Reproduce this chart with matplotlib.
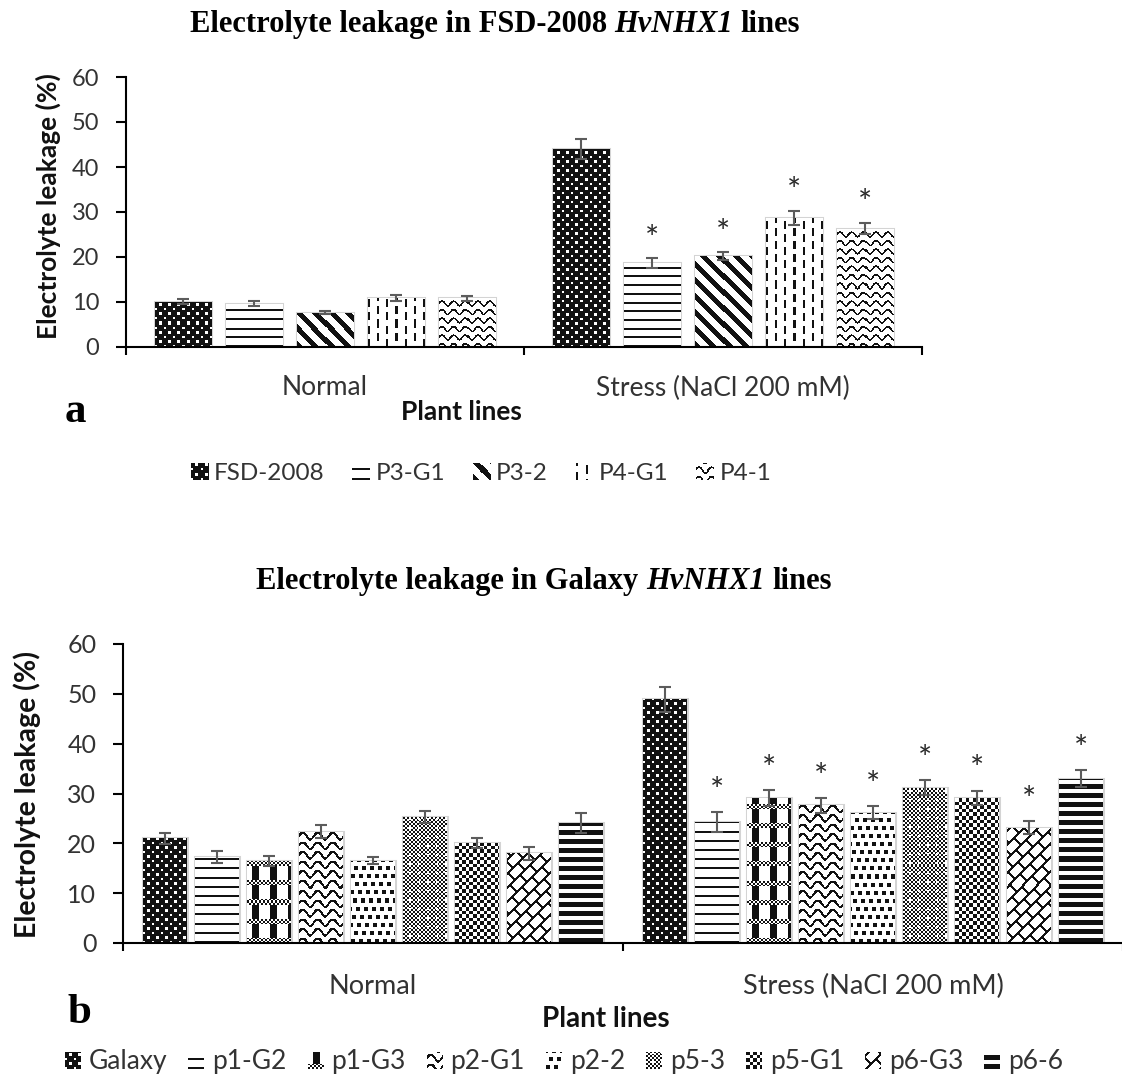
import numpy as np
import matplotlib
matplotlib.use("Agg")
import matplotlib.pyplot as plt
from matplotlib.legend_handler import HandlerBase
from matplotlib.image import BboxImage
from matplotlib.transforms import Bbox, TransformedBbox
from matplotlib.colors import Normalize
from matplotlib.patches import Patch

plt.rcParams['font.family'] = ['Lato', 'DejaVu Sans']

# ---------------- data ----------------
conditions = ["Normal", "Stress (NaCl 200 mM)"]
yticks = [0, 10, 20, 30, 40, 50, 60]

a_title = ["Electrolyte leakage in FSD-2008", "HvNHX1", "lines"]
a_series = ["FSD-2008", "P3-G1", "P3-2", "P4-G1", "P4-1"]
a_normal = [10.1, 9.6, 7.6, 10.9, 10.8]
a_normal_err = [0.5, 0.6, 0.3, 0.6, 0.6]
a_stress = [44.0, 18.6, 20.2, 28.7, 26.3]
a_stress_err = [2.3, 1.1, 0.8, 1.5, 1.3]
a_sig = [False, True, True, True, True]

b_title = ["Electrolyte leakage in Galaxy", "HvNHX1", "lines"]
b_series = ["Galaxy", "p1-G2", "p1-G3", "p2-G1", "p2-2", "p5-3", "p5-G1", "p6-G3", "p6-6"]
b_normal = [21.0, 17.2, 16.5, 22.3, 16.5, 25.2, 20.0, 18.0, 24.0]
b_normal_err = [1.1, 1.2, 1.0, 1.3, 0.7, 1.2, 1.0, 1.3, 2.0]
b_stress = [48.9, 24.2, 29.1, 27.6, 26.1, 31.2, 29.1, 23.1, 33.0]
b_stress_err = [2.5, 2.0, 1.6, 1.5, 1.3, 1.5, 1.5, 1.3, 1.7]
b_sig = [False, True, True, True, True, True, True, True, True]

a_kinds = ["dots", "hl1", "diag", "vdash", "wave1"]
b_kinds = ["dots", "hl2", "blocks", "wave2", "squares", "fine", "checker", "brick", "hl3"]

# ---------------- textures ----------------
BLACK = 0.07


def texture(kind, W, H):
    X = np.broadcast_to(np.arange(W)[None, :] + 0.5, (H, W))
    Y = np.broadcast_to(np.arange(H)[:, None] + 0.5, (H, W))
    if kind == "dots":
        w = (((X % 9) < 2.2) & ((Y % 9) < 2.2)) | ((((X + 4.5) % 9) < 2.2) & (((Y + 4.5) % 9) < 2.2))
        blk = ~w
    elif kind in ("hl1", "hl2", "hl3"):
        p, t = {"hl1": (8.7, 2.0), "hl2": (9.2, 2.0), "hl3": (9.0, 4.6)}[kind]
        blk = (Y % p) < t
    elif kind == "diag":
        blk = ((X + Y) % 16) < 6.5
    elif kind == "vdash":
        col = np.floor(X / 9)
        off = 6.5 * (col % 2)
        blk = ((X % 9) < 2.3) & (((Y + off) % 13) < 8)
    elif kind in ("wave1", "wave2"):
        p, lam, A, t = {"wave1": (8.5, 11.7, 2.3, 1.7), "wave2": (9.5, 15.0, 3.2, 2.2)}[kind]
        slope = A * 2 * np.pi / lam * np.cos(2 * np.pi * X / lam)
        tl = t * np.sqrt(1 + slope ** 2)
        d = (Y - A * np.sin(2 * np.pi * X / lam)) % p
        blk = d < tl
    elif kind == "blocks":
        cx = X % 18
        cy = Y % 19
        band = cy < 5
        chk = ((np.floor(X / 2) + np.floor(Y / 2)) % 2) == 0
        blk = np.where(band, chk, (cx >= 5) & (cx < 12))
    elif kind == "squares":
        seq = np.array([0, 5, 2, 7, 3, 6, 1, 4])
        row = (np.floor(Y / 8).astype(int)) % 8
        off = seq[row]
        blk = (((X + off) % 8) < 4) & ((Y % 8) < 4)
    elif kind == "fine":
        chk = ((np.floor(X / 2) + np.floor(Y / 2)) % 2) == 0
        hl = (((X + 3) % 9) < 2) & (((Y + 3) % 9) < 2)
        blk = chk & ~hl
    elif kind == "checker":
        blk = ((np.floor(X / 3.6) + np.floor(Y / 3.6)) % 2) == 0
    elif kind == "brick":
        u = X - Y
        v = X + Y
        line = (u % 14) < 2.6
        k = np.floor(u / 14)
        conn = ((v + 10 * (k % 2)) % 20) < 2.6
        blk = line | conn
    else:
        blk = np.zeros((H, W), bool)
    return np.where(blk, BLACK, 1.0)


class TexHandler(HandlerBase):
    def __init__(self, kind):
        super().__init__()
        self.kind = kind

    def create_artists(self, legend, orig_handle, xdescent, ydescent, width, height, fontsize, trans):
        bb = Bbox.from_bounds(-xdescent, -ydescent, width, height)
        img = BboxImage(TransformedBbox(bb, trans), cmap="gray", norm=Normalize(0, 1),
                        interpolation="nearest", origin="lower")
        npx = max(4, int(round(width * 100 / 72)))
        npy = max(4, int(round(height * 100 / 72)))
        img.set_data(texture(self.kind, npx, npy))
        return [img]


# ---------------- figure ----------------
W_PX, H_PX = 1122, 1081
fig = plt.figure(figsize=(W_PX / 100, H_PX / 100), dpi=100)
renderer = fig.canvas.get_renderer()


def fx(px):
    return px / W_PX


def fy(py):
    return 1 - py / H_PX


def mixed_title(parts, cx, base_y, fs):
    styles = ["normal", "italic", "normal"]
    kw = dict(fontsize=fs, family="Liberation Serif", fontweight="bold", va="baseline", ha="left")
    probe1 = fig.text(0, 0, "a a", **kw)
    probe2 = fig.text(0, 0, "aa", **kw)
    sp = probe1.get_window_extent(renderer).width - probe2.get_window_extent(renderer).width
    probe1.remove()
    probe2.remove()
    texts = [fig.text(0, fy(base_y), s, fontstyle=st, **kw) for s, st in zip(parts, styles)]
    widths = [t.get_window_extent(renderer).width for t in texts]
    total = sum(widths) + sp * (len(parts) - 1)
    x = cx - total / 2
    for t, w in zip(texts, widths):
        t.set_x(fx(x))
        x += w + sp


def panel(rect, series, kinds, normal, nerr, stress, serr, sig, pitch, width,
          tick_fs, cat_fs, cat_pad, star_off):
    ax = fig.add_axes(rect)
    n = len(series)
    offs = (np.arange(n) - (n - 1) / 2) * pitch
    cats = np.arange(len(conditions))
    patches = []
    for i in range(n):
        xs = cats + offs[i]
        vals = [normal[i], stress[i]]
        errs = [nerr[i], serr[i]]
        ax.bar(xs, vals, width, facecolor="none", edgecolor="#d4d4d4", linewidth=2.2, zorder=1.5)
        bars = ax.bar(xs, vals, width, color="white", edgecolor="none", zorder=1.8, label=series[i])
        for b in bars:
            patches.append((b, kinds[i]))
        ax.errorbar(xs, vals, yerr=errs, fmt="none", ecolor="#5c5c5c", elinewidth=1.5,
                    capsize=4.3, capthick=1.5, zorder=4)
        if sig[i]:
            ax.annotate("*", xy=(xs[1], stress[i] + serr[i]), xytext=(0, star_off),
                        textcoords="offset points", ha="center", va="baseline",
                        fontsize=24, color="#2a2a2a", zorder=5)
    ax.set_xlim(-0.5, len(conditions) - 0.5)
    ax.set_ylim(0, 60)
    ax.set_yticks(yticks)
    ax.set_xticks(np.arange(len(conditions) + 1) - 0.5)
    ax.set_xticklabels([])
    ax.set_xticks(cats, conditions, minor=True)
    for s in ("top", "right"):
        ax.spines[s].set_visible(False)
    for s in ("left", "bottom"):
        ax.spines[s].set_linewidth(1.5)
        ax.spines[s].set_color("black")
    ax.tick_params(axis="x", which="major", length=6, width=1.5, direction="out")
    ax.tick_params(axis="x", which="minor", length=0, pad=cat_pad, labelsize=cat_fs, labelcolor="#333333")
    ax.tick_params(axis="y", length=7.2, width=1.5, direction="out", pad=12,
                   labelsize=tick_fs, labelcolor="#333333")
    # textures clipped to each bar
    for b, kind in patches:
        x0 = b.get_x()
        x1 = x0 + b.get_width()
        h = b.get_height()
        p0 = ax.transData.transform((x0, 0))
        p1 = ax.transData.transform((x1, h))
        Wp = max(1, int(round(p1[0] - p0[0])))
        Hp = max(1, int(round(p1[1] - p0[1])))
        im = ax.imshow(texture(kind, Wp, Hp), extent=(x0, x1, 0, h), origin="lower",
                       cmap="gray", vmin=0, vmax=1, interpolation="nearest",
                       aspect="auto", zorder=2)
        im.set_clip_path(b)
    ax.set_xlim(-0.5, len(conditions) - 0.5)
    ax.set_ylim(0, 60)
    return ax


# panel a
ax_a = panel([fx(126), fy(347), fx(922) - fx(126), fy(77) - fy(347)],
             a_series, a_kinds, a_normal, a_normal_err, a_stress, a_stress_err, a_sig,
             pitch=0.178, width=0.141, tick_fs=17, cat_fs=19, cat_pad=20.5, star_off=7)
ax_a.set_ylabel("Electrolyte leakage (%)", fontsize=19, fontweight="bold", color="#111111",
                va="center", ha="center")
ax_a.yaxis.set_label_coords((48 - 126) / 796, (347 - 206) / 270)
ax_a.set_xlabel("Plant lines", fontsize=19, fontweight="bold", color="#111111")
ax_a.xaxis.set_label_coords((461 - 126) / 796, (347 - 420) / 270)
ax_a.xaxis.label.set_verticalalignment("baseline")

# panel b
ax_b = panel([fx(123), fy(943), fx(1123) - fx(123), fy(644) - fy(943)],
             b_series, b_kinds, b_normal, b_normal_err, b_stress, b_stress_err, b_sig,
             pitch=0.104, width=0.088, tick_fs=18, cat_fs=19.5, cat_pad=22.5, star_off=8)
ax_b.set_ylabel("Electrolyte leakage (%)", fontsize=20.5, fontweight="bold", color="#111111",
                va="center", ha="center")
ax_b.yaxis.set_label_coords((27 - 123) / 1000, (943 - 794) / 299)
ax_b.set_xlabel("Plant lines", fontsize=20, fontweight="bold", color="#111111")
ax_b.xaxis.set_label_coords((606 - 123) / 1000, (943 - 1027) / 299)
ax_b.xaxis.label.set_verticalalignment("baseline")

# titles and panel letters
mixed_title(a_title, 495, 32, 22)
mixed_title(b_title, 544, 589, 22)
fig.text(fx(75), fy(422), "a", ha="center", va="baseline", fontsize=31,
         family="Liberation Serif", fontweight="bold")
fig.text(fx(79), fy(1023), "b", ha="center", va="baseline", fontsize=31,
         family="Liberation Serif", fontweight="bold")

# legends
a_handles = [Patch(label=s) for s in a_series]
fig.legend(a_handles, a_series, loc="center", bbox_to_anchor=(fx(481), fy(474)), ncol=len(a_series),
           frameon=False, fontsize=17.5, handlelength=0.7, handleheight=0.65, handletextpad=0.25,
           columnspacing=1.15, labelcolor="#333333",
           handler_map={h: TexHandler(k) for h, k in zip(a_handles, a_kinds)})
b_handles = [Patch(label=s) for s in b_series]
fig.legend(b_handles, b_series, loc="center", bbox_to_anchor=(fx(564), fy(1062)), ncol=len(b_series),
           frameon=False, fontsize=19, handlelength=0.6, handleheight=0.6, handletextpad=0.3,
           columnspacing=0.8, labelcolor="#333333",
           handler_map={h: TexHandler(k) for h, k in zip(b_handles, b_kinds)})

fig.savefig("out.png", dpi=100)
